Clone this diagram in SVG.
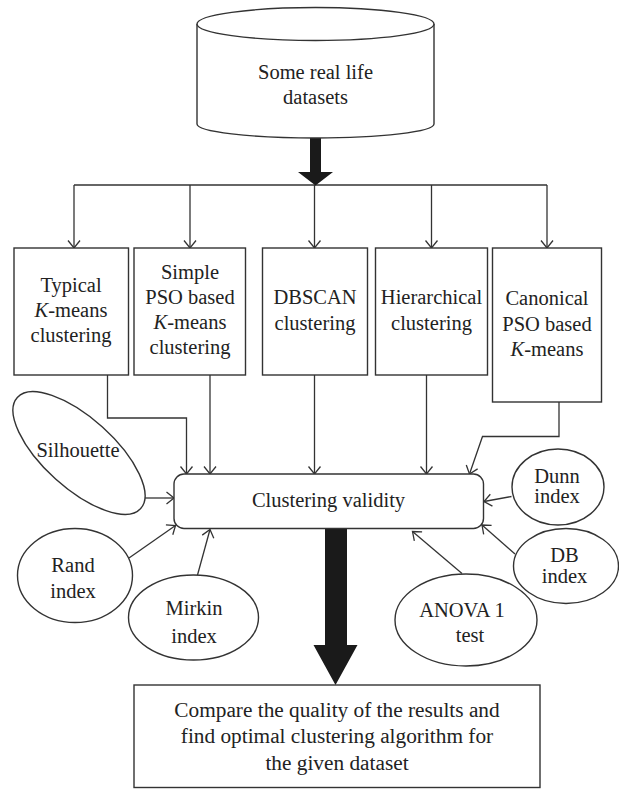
<svg xmlns="http://www.w3.org/2000/svg" width="619" height="789" viewBox="0 0 619 789">
<defs>
<style>
.s{fill:#fff;stroke:#333;stroke-width:1.4}
.c{fill:none;stroke:#333;stroke-width:1.3}
text{font-family:"Liberation Serif","Times New Roman",serif;font-size:20.5px;fill:#222;text-anchor:middle}
.i{font-style:italic}
.b{font-size:21.3px}
</style>
<marker id="v" viewBox="-9 -7 11 14" markerWidth="11" markerHeight="14" refX="0" refY="0" orient="auto" markerUnits="userSpaceOnUse">
<path d="M-7.5,-6 L0,0 L-7.5,6" fill="none" stroke="#333" stroke-width="1.3"/>
</marker>
</defs>
<rect width="619" height="789" fill="#fff"/>

<g id="connectors">
<path class="c" d="M74,185 L547,185"/>
<path class="c" d="M74,185 L74,248" marker-end="url(#v)"/>
<path class="c" d="M190,185 L190,248" marker-end="url(#v)"/>
<path class="c" d="M314.5,185 L314.5,248" marker-end="url(#v)"/>
<path class="c" d="M431.5,185 L431.5,248" marker-end="url(#v)"/>
<path class="c" d="M547,185 L547,248" marker-end="url(#v)"/>
<path class="c" d="M107.5,375 L107.5,418 L186.5,418 L186.5,474" marker-end="url(#v)"/>
<path class="c" d="M210,375 L210,474" marker-end="url(#v)"/>
<path class="c" d="M314.5,375 L314.5,474" marker-end="url(#v)"/>
<path class="c" d="M426.5,375 L426.5,474" marker-end="url(#v)"/>
<path class="c" d="M559,402 L559,436.5 L482.5,436.5 L469.5,474" marker-end="url(#v)"/>
<path class="c" d="M145,498 L174,498" marker-end="url(#v)"/>
<path class="c" d="M129,558 L175.5,525.5" marker-end="url(#v)"/>
<path class="c" d="M197.5,575 L210,529.5" marker-end="url(#v)"/>
<path class="c" d="M511.5,496.5 L484,501.5" marker-end="url(#v)"/>
<path class="c" d="M515,554 L482,525" marker-end="url(#v)"/>
<path class="c" d="M462,573.5 L412.5,531.5" marker-end="url(#v)"/>
<path d="M310,138 L321,138 L321,172 L333,172 L315.5,185.5 L298,172 L310,172 Z" fill="#1a1a1a"/>
<path d="M325,528.5 L347,528.5 L347,645 L357.5,645 L335.5,685 L313.5,645 L325,645 Z" fill="#1a1a1a"/>
</g>

<g id="datasets">
<path class="s" d="M197,24 L197,124 A118.5,14 0 0 0 434,124 L434,24"/>
<ellipse class="s" cx="315.5" cy="24" rx="118.5" ry="16.5"/>
<text x="315.5" y="79">Some real life</text>
<text x="315.5" y="104">datasets</text>
</g>

<g id="kmeans">
<rect class="s" x="14" y="248" width="114.5" height="127"/>
<text x="71" y="292">Typical</text>
<text x="71" y="317"><tspan class="i">K</tspan>-means</text>
<text x="71" y="342">clustering</text>
</g>

<g id="psokmeans">
<rect class="s" x="134" y="248" width="111.5" height="127"/>
<text x="190" y="279">Simple</text>
<text x="190" y="304">PSO based</text>
<text x="190" y="329"><tspan class="i">K</tspan>-means</text>
<text x="190" y="354">clustering</text>
</g>

<g id="dbscan">
<rect class="s" x="262.5" y="248" width="105" height="127"/>
<text x="315" y="304">DBSCAN</text>
<text x="315" y="330">clustering</text>
</g>

<g id="hierarchical">
<rect class="s" x="375.5" y="248" width="112" height="127"/>
<text x="431.5" y="304">Hierarchical</text>
<text x="431.5" y="330">clustering</text>
</g>

<g id="canonical">
<rect class="s" x="492.5" y="248" width="109" height="154"/>
<text x="547" y="305">Canonical</text>
<text x="547" y="331">PSO based</text>
<text x="547" y="356"><tspan class="i">K</tspan>-means</text>
</g>

<g id="validity">
<rect class="s" x="174" y="474" width="309.5" height="54.5" rx="10"/>
<text x="328.5" y="507">Clustering validity</text>
</g>

<g id="silhouette">
<ellipse class="s" cx="79" cy="453" rx="83" ry="35" transform="rotate(42 79 453)"/>
<text x="78" y="457">Silhouette</text>
</g>

<g id="rand">
<ellipse class="s" cx="75" cy="575.5" rx="57.5" ry="47"/>
<text x="73" y="572">Rand</text>
<text x="73" y="598">index</text>
</g>

<g id="mirkin">
<ellipse class="s" cx="193.5" cy="617.5" rx="65" ry="42.5"/>
<text x="194" y="615">Mirkin</text>
<text x="194" y="643">index</text>
</g>

<g id="dunn">
<ellipse class="s" cx="558" cy="487" rx="46" ry="38"/>
<text x="557" y="483">Dunn</text>
<text x="557" y="503">index</text>
</g>

<g id="db">
<ellipse class="s" cx="566" cy="566" rx="52.5" ry="37.5"/>
<text x="564.5" y="562">DB</text>
<text x="564.5" y="583">index</text>
</g>

<g id="anova">
<ellipse class="s" cx="466" cy="620" rx="71" ry="46"/>
<text x="462" y="617">ANOVA 1</text>
<text x="470" y="642">test</text>
</g>

<g id="compare">
<rect class="s" x="134" y="685" width="406" height="102.5"/>
<text class="b" x="337" y="717">Compare the quality of the results and</text>
<text class="b" x="337" y="743">find optimal clustering algorithm for</text>
<text class="b" x="337" y="770">the given dataset</text>
</g>
</svg>
